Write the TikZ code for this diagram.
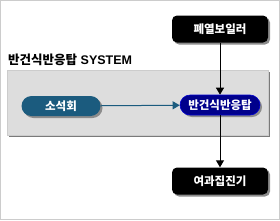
\documentclass[tikz,border=0pt]{standalone}
\usepackage{fontspec}
\setmainfont{Liberation Sans}
\newfontfamily\kr{Noto Sans CJK KR}[BoldFont={Noto Sans CJK KR Black}]
\usetikzlibrary{arrows.meta,shadows}
\definecolor{panelgray}{HTML}{DDDDDD}
\definecolor{panelshadow}{HTML}{7A7A7A}
\definecolor{framegray}{HTML}{CCCCCC}
\definecolor{tealbox}{HTML}{1B5B7E}
\definecolor{navybox}{HTML}{00008C}
\definecolor{boxshadow}{HTML}{8C8C8C}
\tikzset{
  blackbox/.style={rounded corners=5pt, fill=black, text=white,
    font=\kr\bfseries\fontsize{11.5}{11.5}\selectfont,
    minimum width=96pt, minimum height=27pt, inner sep=0pt,
    drop shadow={shadow xshift=2pt, shadow yshift=-2pt, fill=boxshadow, opacity=1}},
  pillbox/.style={rounded corners=10pt, text=white,
    font=\kr\bfseries\fontsize{11.5}{11.5}\selectfont,
    minimum height=20pt, inner sep=0pt,
    drop shadow={shadow xshift=2pt, shadow yshift=-2pt, fill=boxshadow, opacity=1}},
  blackarrow/.style={line width=1pt, -{Triangle[length=7pt,width=8pt]}},
}
\begin{document}
\begin{tikzpicture}[x=1pt,y=-1pt]
\useasboundingbox (0,0) rectangle (280,220);
\draw[framegray, line width=1pt] (0.5,0.5) rectangle (279.5,219.5);
% panel
\fill[panelshadow] (9,72) rectangle (270,137);
\draw[fill=panelgray, draw=framegray, line width=0.5pt] (7,70) rectangle (268,135);
\node[anchor=west, inner sep=0pt, font=\bfseries\fontsize{12.5}{12.5}\selectfont] (title) at (8,60)
  {{\kr 반건식반응탑} SYSTEM};
% boxes
\node[blackbox] (boiler) at (220,29) {폐열보일러};
\node[pillbox, fill=tealbox, minimum width=79pt] (lime) at (61,106) {소석회};
\node[pillbox, fill=navybox, draw=blue!60!navybox, line width=0.6pt, minimum width=80pt] (tower) at (220,105) {반건식반응탑};
\node[blackbox] (filter) at (220,181) {여과집진기};
% connectors
\draw[blackarrow] (boiler) -- (tower);
\draw[blackarrow] (tower) -- (filter);
\draw[tealbox, line width=1pt, -{Triangle[length=7pt,width=8pt]}] (lime) -- (tower);
\end{tikzpicture}
\end{document}
